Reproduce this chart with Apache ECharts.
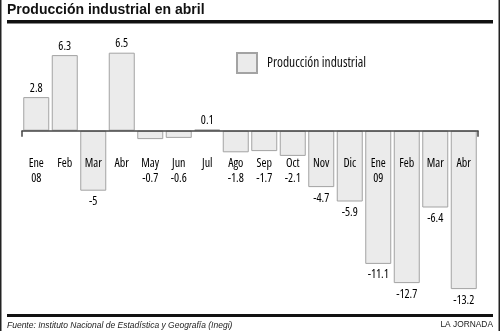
<!DOCTYPE html>
<html>
<head>
<meta charset="utf-8">
<script src="https://cdn.jsdelivr.net/npm/echarts@6/dist/echarts.min.js"></script>
<style>
html,body{margin:0;padding:0;background:#fff;}
#chart{width:500px;height:331px;}
</style>
</head>
<body>
<div id="chart"></div>
<script>
var titleText = 'Producción industrial en abril';
var seriesName = 'Producción industrial';
var sourceText = 'Fuente: Instituto Nacional de Estadística y Geografía (Inegi)';
var creditText = 'LA JORNADA';
var categories = ['Ene\n08', 'Feb', 'Mar', 'Abr', 'May', 'Jun', 'Jul', 'Ago', 'Sep', 'Oct', 'Nov', 'Dic', 'Ene\n09', 'Feb', 'Mar', 'Abr'];
var values = [2.8, 6.3, -5, 6.5, -0.7, -0.6, 0.1, -1.8, -1.7, -2.1, -4.7, -5.9, -11.1, -12.7, -6.4, -13.2];

var COND = "'Open Sans', 'Liberation Sans', sans-serif";
var SANS = "'Liberation Sans', Arial, sans-serif";

function smallNeg(v) { return v < 0 && v > -3; }

var chart = echarts.init(document.getElementById('chart'), null, {renderer: 'canvas'});
chart.setOption({
  animation: false,
  backgroundColor: '#fff',
  grid: {left: 22, width: 456, top: 34.7, height: 264, containLabel: false, outerBoundsMode: 'none'},
  legend: {
    data: [seriesName],
    left: 231, top: 47,
    itemWidth: 20, itemHeight: 20,
    icon: 'rect',
    textStyle: {fontFamily: COND, fontStyle: 'condensed', fontSize: 13.5, color: '#111', padding: [3, 0, 0, 5]}
  },
  xAxis: {
    type: 'category',
    data: categories,
    z: 5,
    position: 'bottom',
    offset: -168,
    axisLine: {onZero: false, lineStyle: {color: '#444', width: 1.5}},
    axisTick: {show: true, length: 6, lineStyle: {color: '#444', width: 1.5},
      interval: function (i) { return i === 0 || i === categories.length; }},
    axisLabel: {
      margin: 25, interval: 0, fontFamily: COND, fontStyle: 'condensed', fontSize: 12, color: '#000', lineHeight: 15,
      formatter: function (val, i) {
        var v = values[i];
        return smallNeg(v) ? val + '\n' + v : val;
      }
    }
  },
  yAxis: {type: 'value', min: -14, max: 8, show: false, splitLine: {show: false}},
  series: [{
    name: seriesName,
    type: 'bar',
    barWidth: 26,
    itemStyle: {color: '#ebebeb', borderColor: '#a3a3a3', borderWidth: 1},
    label: {
      show: true, fontFamily: COND, fontStyle: 'condensed', fontSize: 12, color: '#000', distance: 3,
      formatter: function (p) { return smallNeg(p.value) ? '' : String(p.value); }
    },
    data: values.map(function (v) {
      return {value: v, label: {position: v >= 0 ? 'top' : 'bottom', distance: v >= 0 ? 3 : 5}};
    })
  }],
  graphic: [
    {type: 'text', left: 7, top: 3, style: {text: titleText, font: 'bold 14px ' + SANS, fill: '#111'}},
    {type: 'rect', shape: {x: 7, y: 20, width: 486, height: 3.5}, style: {fill: '#111'}},
    {type: 'rect', shape: {x: 7, y: 314, width: 486, height: 3}, style: {fill: '#111'}},
    {type: 'text', left: 7, top: 321, style: {text: sourceText, font: 'italic 8.5px ' + SANS, fill: '#222'}},
    {type: 'text', right: 7, top: 321, style: {text: creditText, font: '8.4px ' + SANS, fill: '#222'}},
    {type: 'line', shape: {x1: 0.75, y1: 0, x2: 0.75, y2: 331}, style: {stroke: '#222', lineWidth: 1.5}},
    {type: 'line', shape: {x1: 499.25, y1: 0, x2: 499.25, y2: 331}, style: {stroke: '#222', lineWidth: 1.5}}
  ]
});
</script>
</body>
</html>
